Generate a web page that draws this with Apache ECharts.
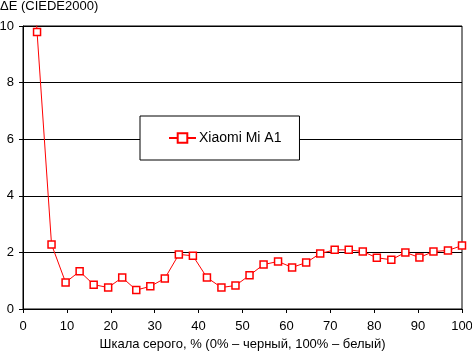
<!DOCTYPE html>
<html>
<head>
<meta charset="utf-8">
<script src="https://cdn.jsdelivr.net/npm/echarts@6/dist/echarts.min.js"></script>
<style>
  html, body { margin: 0; padding: 0; background: #fff; }
  #chart { width: 472px; height: 352px; }
</style>
</head>
<body>
<div id="chart"></div>
<script>
// grey level, %
const grayLevels = [0, 3.2, 6.5, 9.7, 12.9, 16.1, 19.4, 22.6, 25.8, 29.0, 32.3, 35.5, 38.7, 41.9, 45.2, 48.4,
  51.6, 54.8, 58.1, 61.3, 64.5, 67.7, 71.0, 74.2, 77.4, 80.6, 83.9, 87.1, 90.3, 93.5, 96.8, 100]
// ΔE values
const deltaE = [19, 9.79, 2.28, 0.94, 1.33, 0.86, 0.76, 1.11, 0.67, 0.80, 1.08, 1.93, 1.88, 1.11, 0.76, 0.83,
  1.19, 1.57, 1.68, 1.47, 1.64, 1.96, 2.09, 2.09, 2.03, 1.81, 1.74, 2.00, 1.82, 2.03, 2.07, 2.24]
const seriesName = 'Xiaomi Mi A1'
const yTitle = 'ΔE (CIEDE2000)'
const xTitle = 'Шкала серого, % (0% – черный, 100% – белый)'

const font = 'Liberation Sans, Arial, sans-serif'
const chart = echarts.init(document.getElementById('chart'), null, { renderer: 'canvas' })

chart.setOption({
  animation: false,
  backgroundColor: '#fff',
  textStyle: { fontFamily: font, fontSize: 12, color: '#000' },
  title: {
    text: yTitle,
    left: 0,
    top: 0,
    padding: 0,
    textStyle: { fontFamily: font, fontSize: 13, fontWeight: 'normal', color: '#000' }
  },
  legend: {
    left: 140,
    top: 116,
    padding: [15, 18, 15, 28],
    itemWidth: 27,
    itemHeight: 12,
    itemGap: 0,
    borderColor: '#000',
    borderWidth: 1,
    backgroundColor: '#fff',
    textStyle: { fontFamily: font, fontSize: 14, color: '#000', padding: [0, 0, 0, -2] },
    data: [seriesName]
  },
  grid: {
    left: 23,
    right: 10,
    top: 26,
    bottom: 43,
    outerBoundsMode: 'none',
    containLabel: false,
    show: true,
    borderColor: '#000',
    borderWidth: 1
  },
  xAxis: {
    type: 'value',
    min: 0,
    max: 100,
    interval: 10,
    name: xTitle,
    nameLocation: 'middle',
    nameGap: 29,
    nameTextStyle: { fontFamily: font, fontSize: 13, color: '#000' },
    axisLine: { lineStyle: { color: '#000', width: 1 } },
    axisTick: { show: true, length: 4, inside: false, lineStyle: { color: '#000' } },
    axisLabel: { color: '#000', fontFamily: font, fontSize: 13, margin: 11 },
    splitLine: { show: false }
  },
  yAxis: {
    type: 'value',
    min: 0,
    max: 10,
    interval: 2,
    axisLine: { show: true, lineStyle: { color: '#000', width: 1 } },
    axisTick: { show: true, length: 4, lineStyle: { color: '#000' } },
    axisLabel: { color: '#000', fontFamily: font, fontSize: 13, margin: 9 },
    splitLine: { show: true, lineStyle: { color: '#000', width: 1 } }
  },
  series: [{
    name: seriesName,
    type: 'line',
    clip: true,
    data: grayLevels.map((x, i) => [x, deltaE[i]]),
    symbol: 'rect',
    symbolSize: 7,
    showAllSymbol: true,
    lineStyle: { color: '#ff0000', width: 1 },
    itemStyle: { color: '#fff', borderColor: '#ff0000', borderWidth: 1.5 }
  }]
})
</script>
</body>
</html>
